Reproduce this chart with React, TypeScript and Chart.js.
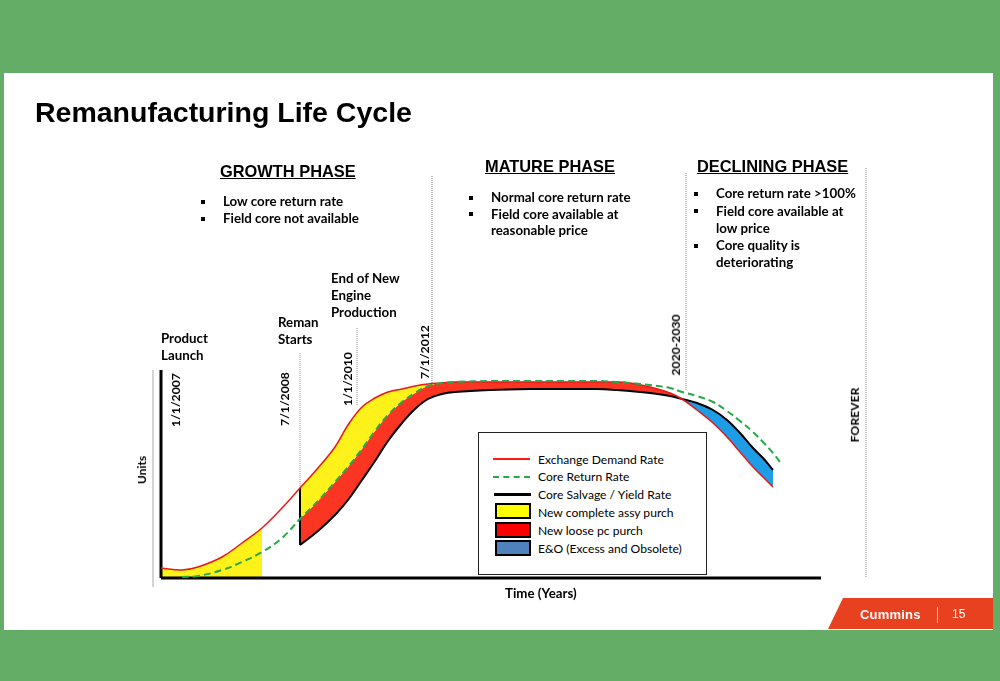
import React, { useEffect, useRef } from "react";
import { Chart, registerables } from "chart.js";
Chart.register(...registerables);

// ---- data (time index 0 = product launch, units = relative volume) ----
const timeIndex = [0, 21, 37, 61, 81, 101, 121, 139, 157, 174, 187, 201, 214, 227, 241, 254, 267, 281, 294, 329, 369, 404, 436, 456, 469, 489, 509, 521, 536, 552, 566, 579, 592, 602, 612, 619];
const exchangeDemand = [10, 8, 11, 21, 35, 50, 70, 90, 110, 131, 153, 171, 180, 186, 189, 192, 194, 195, 196, 196, 196, 196, 196, 196, 195, 191, 185, 179, 168, 155, 141, 126, 111, 101, 91, null];
const coreReturn = [null, 1, 2, 8, 16, 26, 40, 59, 77, 96, 111, 129, 147, 163, 176, 185, 192, 195, 196, 197, 197, 197, 197, 196, 195, 193, 190, 186, 182, 176, 167, 157, 146, 136, 125, 116];
const coreSalvage = [null, null, null, null, null, null, null, 33, 47, 63, 78, 98, 117, 137, 155, 169, 179, 184, 186, 188, 189, 189, 189, 188, 187, 185, 182, 179, 175, 168, 158, 145, 130, 120, 108, null];

// phase boundaries on the time index
const launchAssyEnd = 101;
const remanStart = 139;
const returnMeetsDemand = 294;
const declineStart = 521;
const lastPeriod = 612;

// axis extents
const timeAxis = [0, 660];
const unitsAxis = [0, 208];

// dated milestone markers
const markerTime = [139, 196, 271, 525, 705];
const markerTop = [225, 251, 403, 405, 410];
const markerBottom = [90, 173, 195, 188, 1];

const legendLabels = ["Exchange Demand Rate", "Core Return Rate", "Core Salvage / Yield Rate", "New complete assy purch", "New loose pc purch", "E&O (Excess and Obsolete)"];

const growthNotes = [["Low core return rate"], ["Field core not available"]];
const matureNotes = [["Normal core return rate"], ["Field core available at", "reasonable price"]];
const decliningNotes = [["Core return rate >100%"], ["Field core available at", "low price"], ["Core quality is", "deteriorating"]];

type P = { x: number; y: number };
function pts(series: (number | null)[], from = -Infinity, to = Infinity): P[] {
  const out: P[] = [];
  timeIndex.forEach((t, i) => {
    const v = series[i];
    if (v !== null && t >= from && t <= to) out.push({ x: t, y: v });
  });
  return out;
}
function at(series: (number | null)[], t: number): number {
  return series[timeIndex.indexOf(t)] as number;
}
const upperOfLoose = timeIndex.map((t, i) =>
  exchangeDemand[i] !== null && coreReturn[i] !== null ? Math.min(exchangeDemand[i] as number, coreReturn[i] as number) : null
);

const YELLOW = "#FFF21A";
const RED = "#FB3521";
const BLUE = "#1F9CE6";

const LATO = "Lato, 'Open Sans', sans-serif";
const ARIAL = "'Liberation Sans', Arial, sans-serif";
const BODY = 13.3;

function T(props: { x: number; base: number; size: number; weight?: number; family?: string; color?: string; children: any; style?: any }) {
  const fam = props.family || LATO;
  const asc = fam === LATO ? 0.887 : 0.8465;
  return (
    <div
      style={{
        position: "absolute",
        left: props.x,
        top: props.base - props.size * asc,
        fontSize: props.size,
        lineHeight: `${props.size}px`,
        fontFamily: fam,
        fontWeight: props.weight ?? 700,
        whiteSpace: "nowrap",
        color: props.color || "#000",
        ...(props.style || {}),
      }}
    >
      {props.children}
    </div>
  );
}

function R(props: { cx: number; cy: number; size: number; children: any }) {
  return (
    <div
      style={{
        position: "absolute",
        left: props.cx,
        top: props.cy,
        transform: "translate(-50%, -50%) rotate(-90deg)",
        fontSize: props.size,
        lineHeight: `${props.size}px`,
        fontFamily: LATO,
        fontWeight: 700,
        whiteSpace: "nowrap",
        color: "#000",
      }}
    >
      {props.children}
    </div>
  );
}

function Notes(props: { notes: string[][]; bx: number; tx: number; base: number; step: number }) {
  const items: any[] = [];
  let line = 0;
  props.notes.forEach((note, ni) => {
    const b = props.base + line * props.step;
    items.push(
      <div key={"b" + ni} style={{ position: "absolute", left: props.bx, top: b - 7, width: 4, height: 4, background: "#000" }} />
    );
    note.forEach((txt, li) => {
      items.push(
        <T key={"t" + ni + "_" + li} x={props.tx} base={props.base + line * props.step} size={BODY}>
          {txt}
        </T>
      );
      line++;
    });
  });
  return <>{items}</>;
}

export default function App() {
  const ref = useRef<HTMLCanvasElement>(null);
  useEffect(() => {
    const smooth = { tension: 0.4, pointRadius: 0 };
    const straight = { tension: 0, pointRadius: 0, fill: false };
    const markers = markerTime.map((t, i) => ({
      data: [{ x: t, y: markerBottom[i] }, { x: t, y: markerTop[i] }],
      borderColor: "#8a8a8a",
      borderWidth: 1,
      borderDash: [1, 1],
      ...straight,
    }));
    const datasets: any[] = [
      { label: "Core Return Rate", data: pts(coreReturn), borderColor: "#27A84A", borderWidth: 2, borderDash: [7, 4], fill: false, ...smooth },
      { label: "Exchange Demand Rate", data: pts(exchangeDemand), borderColor: "#E8191B", borderWidth: 1.5, fill: false, ...smooth },
      { label: "Core Salvage / Yield Rate", data: pts(coreSalvage), borderColor: "#000", borderWidth: 2, fill: false, ...smooth },
      { data: [{ x: remanStart, y: at(exchangeDemand, remanStart) }, { x: remanStart, y: at(coreSalvage, remanStart) }], borderColor: "#000", borderWidth: 2, ...straight },
      { data: [{ x: timeAxis[0], y: unitsAxis[0] }, { x: timeAxis[1], y: unitsAxis[0] }], borderColor: "#000", borderWidth: 3, ...straight },
      { data: [{ x: timeAxis[0], y: unitsAxis[0] }, { x: timeAxis[0], y: unitsAxis[1] }], borderColor: "#000", borderWidth: 3, ...straight },
      // fills
      { data: pts(exchangeDemand, 0, launchAssyEnd), fill: "origin", backgroundColor: YELLOW, borderColor: "transparent", borderWidth: 0, ...smooth },
      { data: pts(exchangeDemand, remanStart, returnMeetsDemand), fill: "+1", backgroundColor: YELLOW, borderColor: "transparent", borderWidth: 0, ...smooth },
      { data: pts(coreReturn, remanStart, returnMeetsDemand), fill: false, borderColor: "transparent", borderWidth: 0, ...smooth },
      { data: pts(upperOfLoose, remanStart, declineStart), fill: "+1", backgroundColor: RED, borderColor: "transparent", borderWidth: 0, ...smooth },
      { data: pts(coreSalvage, remanStart, declineStart), fill: false, borderColor: "transparent", borderWidth: 0, ...smooth },
      { data: pts(coreSalvage, declineStart, lastPeriod), fill: "+1", backgroundColor: BLUE, borderColor: "transparent", borderWidth: 0, ...smooth },
      { data: pts(exchangeDemand, declineStart, lastPeriod), fill: false, borderColor: "transparent", borderWidth: 0, ...smooth },
      ...markers,
      { data: [{ x: -8, y: -9 }, { x: -8, y: unitsAxis[1] }], borderColor: "#d4d4d4", borderWidth: 2, ...straight },
    ];
    const chart = new Chart(ref.current!, {
      type: "line",
      data: { datasets },
      options: {
        animation: false,
        responsive: false,
        events: [],
        layout: { padding: { left: 140, right: 100, top: 160, bottom: 81 } },
        scales: {
          x: { type: "linear", min: -21, max: 739, display: false },
          y: { type: "linear", min: -22, max: 418, display: false },
        },
        plugins: { legend: { display: false }, tooltip: { enabled: false } },
      },
    });
    return () => chart.destroy();
  }, []);

  const legendRowBase = [464.3, 482.1, 499.9, 517.7, 535.5, 553.3];

  return (
    <div style={{ position: "fixed", left: 0, top: 0, width: 1000, height: 681, background: "#63AD67", overflow: "hidden" }}>
      <div style={{ position: "absolute", left: 4, top: 73, width: 989, height: 557, background: "#fff" }} />
      <canvas ref={ref} width={1000} height={681} style={{ position: "absolute", left: 0, top: 0 }} />

      <T x={35} base={122} size={28.5} family={ARIAL}>Remanufacturing Life Cycle</T>

      <T x={220} base={177} size={16.4} family={ARIAL} style={{ textDecoration: "underline" }}>GROWTH PHASE</T>
      <T x={485} base={172} size={16.4} family={ARIAL} style={{ textDecoration: "underline" }}>MATURE PHASE</T>
      <T x={697} base={172} size={16.4} family={ARIAL} style={{ textDecoration: "underline" }}>DECLINING PHASE</T>

      <Notes notes={growthNotes} bx={201} tx={223} base={206.7} step={17.3} />
      <Notes notes={matureNotes} bx={469} tx={491} base={202.7} step={16.7} />
      <Notes notes={decliningNotes} bx={694} tx={716} base={199} step={17.3} />

      <T x={161} base={344} size={BODY}>Product</T>
      <T x={161} base={360.7} size={BODY}>Launch</T>
      <T x={278} base={327.7} size={BODY}>Reman</T>
      <T x={278} base={345} size={BODY}>Starts</T>
      <T x={331} base={283.3} size={BODY}>End of New</T>
      <T x={331} base={300.7} size={BODY}>Engine</T>
      <T x={331} base={317.7} size={BODY}>Production</T>

      <R cx={176} cy={400} size={12.2}>1/1/2007</R>
      <R cx={285} cy={398.5} size={12.2}>7/1/2008</R>
      <R cx={348} cy={378.5} size={12.2}>1/1/2010</R>
      <R cx={424.5} cy={351.5} size={12.2}>7/1/2012</R>
      <R cx={676} cy={345} size={12.2}>2020-2030</R>
      <R cx={855} cy={415} size={12.2}>FOREVER</R>
      <R cx={142} cy={470} size={12}>Units</R>
      <T x={505} base={599} size={BODY}>Time (Years)</T>

      {/* legend */}
      <div style={{ position: "absolute", left: 478, top: 432, width: 227, height: 141, border: "1.5px solid #222", background: "#fff" }} />
      <div style={{ position: "absolute", left: 493, top: 457.5, width: 37, height: 2, background: "#FF1A10" }} />
      <div style={{ position: "absolute", left: 493, top: 475.7, width: 37, height: 0, borderTop: "2px dashed #27A84A" }} />
      <div style={{ position: "absolute", left: 494, top: 493, width: 37, height: 3, background: "#000" }} />
      <div style={{ position: "absolute", left: 495, top: 503, width: 32, height: 12, border: "2px solid #000", background: "#FFFF00" }} />
      <div style={{ position: "absolute", left: 495, top: 521.5, width: 32, height: 12, border: "2px solid #000", background: "#FF0000" }} />
      <div style={{ position: "absolute", left: 495, top: 540, width: 32, height: 12, border: "2px solid #000", background: "#4F81BD" }} />
      {legendLabels.map((l, i) => (
        <T key={l} x={538} base={legendRowBase[i]} size={12.1} weight={400}>{l}</T>
      ))}

      {/* footer */}
      <div style={{ position: "absolute", left: 828, top: 598, width: 165, height: 31, background: "#E8411F", clipPath: "polygon(15px 0, 100% 0, 100% 100%, 0 100%)" }} />
      <T x={860} base={619.5} size={13} family={ARIAL} color="#fff" style={{ letterSpacing: 0.2 }}>Cummins</T>
      <div style={{ position: "absolute", left: 937, top: 607, width: 1, height: 16, background: "rgba(255,255,255,0.65)" }} />
      <T x={952} base={618.5} size={12} weight={400} family={ARIAL} color="#fff">15</T>
    </div>
  );
}
